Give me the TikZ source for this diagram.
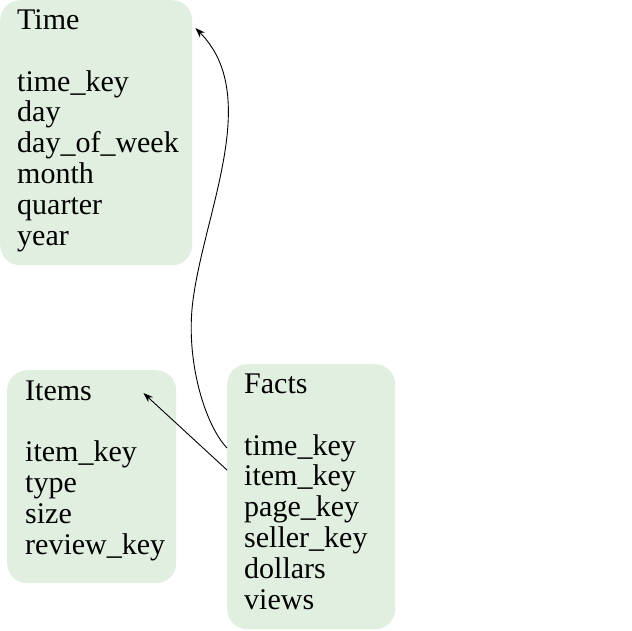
\documentclass[tikz,border=0pt]{standalone}
\usepackage{fontspec}
\setmainfont{Liberation Serif}
\usetikzlibrary{arrows.meta,calc}
\definecolor{boxgreen}{RGB}{225,239,225}
\tikzset{
  tbox/.style={fill=boxgreen, draw=none, rounded corners=20pt, anchor=north west, inner sep=0pt},
  tlabel/.style={anchor=base west, align=left, inner sep=0pt, font=\fontsize{30}{30.8}\selectfont},
  link/.style={draw=black, line width=0.9pt, -{Stealth[length=10pt,width=7pt]}}
}
\begin{document}
\begin{tikzpicture}[x=1pt,y=-1pt]
\useasboundingbox (0,0) rectangle (632,630);
\node[tbox, minimum width=192pt, minimum height=265pt] (time) at (0,0) {};
\node[tbox, minimum width=169pt, minimum height=213pt] (items) at (7,370) {};
\node[tbox, minimum width=168pt, minimum height=265pt] (facts) at (227,364) {};
\node[tlabel] (timetext) at (17,245) {Time\\[30.8pt]time\_key\\day\\day\_of\_week\\month\\quarter\\year};
\node[tlabel] (itemstext) at (25,554) {Items\\[30.8pt]item\_key\\type\\size\\review\_key};
\node[tlabel] (factstext) at (244,609) {Facts\\[30.8pt]time\_key\\item\_key\\page\_key\\seller\_key\\dollars\\views};
\draw[link] ([yshift=-106pt]facts.north west) -- ([xshift=-33pt,yshift=-23pt]items.north east);
\draw[link] ([yshift=-84pt]facts.north west) .. controls (205,425) and (185,360) .. (193,300)
  .. controls (205,210) and (262,95) .. ([xshift=3pt,yshift=-28pt]time.north east);
\end{tikzpicture}
\end{document}
